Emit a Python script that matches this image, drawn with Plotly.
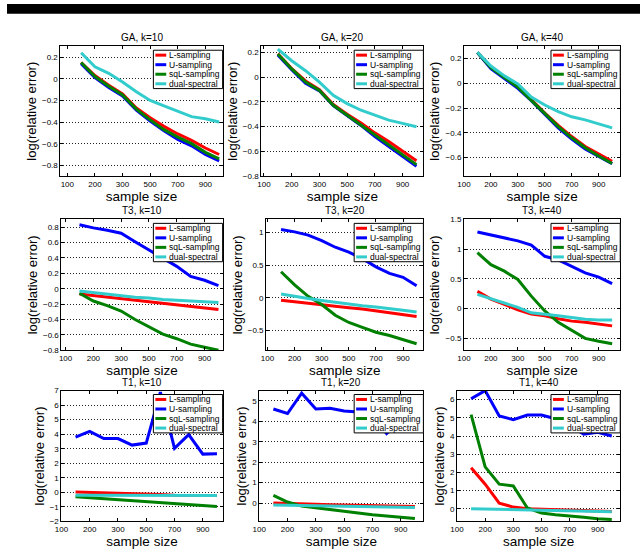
import plotly.graph_objects as go

W, H = 640, 552
FONT = "Liberation Sans, Arial, Helvetica, sans-serif"

# ---------------- data ----------------
x_idx = list(range(1, 12))
sample_sizes = [100, 150, 200, 250, 300, 400, 500, 600, 700, 800, 900, 1000]
tick_pos = list(range(0, 12, 2))
tick_labels = [str(s) for s in sample_sizes[0::2]]

series_names = ["L-sampling", "U-sampling", "sqL-sampling", "dual-spectral"]
titles = ["GA, k=10", "GA, k=20", "GA, k=40",
          "T3, k=10", "T3, k=20", "T3, k=40",
          "T1, k=10", "T1, k=20", "T1, k=40"]

ga10_L = [0.15, 0.03, -0.06, -0.14, -0.27, -0.36, -0.44, -0.51, -0.57, -0.64, -0.70]
ga10_U = [0.14, 0.01, -0.08, -0.16, -0.29, -0.39, -0.48, -0.56, -0.62, -0.70, -0.76]
ga10_sqL = [0.15, 0.02, -0.07, -0.15, -0.28, -0.38, -0.47, -0.54, -0.60, -0.68, -0.74]
ga10_dual = [0.24, 0.11, 0.05, -0.03, -0.12, -0.20, -0.25, -0.30, -0.35, -0.37, -0.40]

ga20_L = [0.19, 0.07, -0.03, -0.10, -0.22, -0.30, -0.37, -0.45, -0.52, -0.60, -0.675]
ga20_U = [0.18, 0.06, -0.05, -0.11, -0.23, -0.31, -0.39, -0.48, -0.56, -0.64, -0.72]
ga20_sqL = [0.187, 0.067, -0.04, -0.107, -0.227, -0.307, -0.387, -0.467, -0.547, -0.627, -0.707]
ga20_dual = [0.227, 0.133, 0.053, -0.04, -0.147, -0.213, -0.267, -0.307, -0.347, -0.373, -0.40]

ga40_L = [0.25, 0.13, 0.05, -0.03, -0.13, -0.24, -0.34, -0.43, -0.51, -0.57, -0.63]
ga40_U = [0.25, 0.12, 0.04, -0.04, -0.14, -0.25, -0.36, -0.45, -0.53, -0.59, -0.65]
ga40_sqL = [0.25, 0.127, 0.048, -0.03, -0.137, -0.243, -0.35, -0.44, -0.52, -0.587, -0.648]
ga40_dual = [0.252, 0.14, 0.061, -0.005, -0.11, -0.175, -0.228, -0.27, -0.295, -0.33, -0.36]

t3_10_L = [-0.07, -0.09, -0.11, -0.13, -0.15, -0.17, -0.19, -0.21, -0.23, -0.25, -0.27]
t3_10_U = [0.83, 0.79, 0.76, 0.72, 0.61, 0.50, 0.40, 0.29, 0.16, 0.11, 0.04]
t3_10_sqL = [-0.06, -0.16, -0.22, -0.29, -0.40, -0.50, -0.59, -0.65, -0.72, -0.76, -0.80]
t3_10_dual = [-0.03, -0.05, -0.07, -0.09, -0.11, -0.12, -0.14, -0.15, -0.16, -0.17, -0.18]

t3_20_L = [-0.035, -0.06, -0.08, -0.10, -0.13, -0.15, -0.17, -0.20, -0.22, -0.25, -0.285]
t3_20_U = [1.045, 1.01, 0.96, 0.875, 0.775, 0.70, 0.60, 0.475, 0.375, 0.315, 0.185]
t3_20_sqL = [0.40, 0.20, 0.025, -0.10, -0.265, -0.375, -0.45, -0.525, -0.575, -0.635, -0.70]
t3_20_dual = [0.06, 0.02, -0.01, -0.04, -0.07, -0.10, -0.12, -0.14, -0.17, -0.19, -0.215]

t3_40_L = [0.29, 0.16, 0.07, -0.02, -0.09, -0.12, -0.17, -0.21, -0.23, -0.26, -0.29]
t3_40_U = [1.29, 1.24, 1.18, 1.14, 1.07, 0.88, 0.82, 0.71, 0.60, 0.53, 0.42]
t3_40_sqL = [0.94, 0.74, 0.63, 0.49, 0.21, -0.04, -0.23, -0.37, -0.50, -0.55, -0.59]
t3_40_dual = [0.24, 0.17, 0.10, 0.02, -0.07, -0.09, -0.12, -0.15, -0.18, -0.19, -0.19]

t1_10_L = [0.02, 0.0, -0.02, -0.06, -0.08, -0.10, -0.15, -0.20, -0.22, -0.22, -0.22]
t1_10_U = [3.8, 4.2, 3.7, 3.7, 3.25, 3.39, 6.9, 3.03, 3.97, 2.63, 2.65]
t1_10_sqL = [-0.30, -0.37, -0.43, -0.50, -0.57, -0.64, -0.70, -0.77, -0.83, -0.90, -0.97]
t1_10_dual = [-0.20, -0.20, -0.20, -0.20, -0.20, -0.20, -0.21, -0.21, -0.21, -0.22, -0.22]

t1_20_L = [0.0, -0.03, -0.05, -0.06, -0.08, -0.10, -0.10, -0.12, -0.14, -0.15, -0.17]
t1_20_U = [4.6, 4.38, 5.37, 4.6, 4.64, 4.5, 4.45, 4.3, 3.4, 4.0, 4.1]
t1_20_sqL = [0.37, 0.05, -0.15, -0.24, -0.32, -0.40, -0.49, -0.57, -0.63, -0.70, -0.76]
t1_20_dual = [-0.10, -0.11, -0.12, -0.13, -0.14, -0.15, -0.16, -0.18, -0.19, -0.20, -0.22]

t1_40_L = [2.25, 1.35, 0.31, 0.09, 0.0, -0.02, -0.02, -0.05, -0.07, -0.12, -0.15]
t1_40_U = [6.05, 6.5, 5.1, 4.9, 5.15, 5.15, 4.95, 4.6, 4.1, 4.2, 4.0]
t1_40_sqL = [5.18, 2.3, 1.35, 1.25, 0.04, -0.24, -0.33, -0.42, -0.47, -0.55, -0.60]
t1_40_dual = [0.0, -0.02, -0.04, -0.06, -0.08, -0.10, -0.11, -0.13, -0.15, -0.16, -0.17]

panel_series = [
    [ga10_L, ga10_U, ga10_sqL, ga10_dual],
    [ga20_L, ga20_U, ga20_sqL, ga20_dual],
    [ga40_L, ga40_U, ga40_sqL, ga40_dual],
    [t3_10_L, t3_10_U, t3_10_sqL, t3_10_dual],
    [t3_20_L, t3_20_U, t3_20_sqL, t3_20_dual],
    [t3_40_L, t3_40_U, t3_40_sqL, t3_40_dual],
    [t1_10_L, t1_10_U, t1_10_sqL, t1_10_dual],
    [t1_20_L, t1_20_U, t1_20_sqL, t1_20_dual],
    [t1_40_L, t1_40_U, t1_40_sqL, t1_40_dual],
]

# ---------------- styling / layout ----------------
colors = ["#ff0000", "#0000ff", "#008000", "#33cccc"]
y_ranges = [[-0.9, 0.3], [-0.8, 0.25], [-0.75, 0.3],
            [-0.8, 0.9], [-0.8, 1.2], [-0.7, 1.5],
            [-2, 7], [-0.9, 5.5], [-0.7, 6.5]]
y_dticks = [0.2, 0.2, 0.2, 0.2, 0.5, 0.5, 1, 1, 1]
x_ranges = [[-0.5, 11.25], [-0.2, 11.5], [0, 11.6],
            [-0.3, 11.3], [-0.1, 11.5], [0, 11.6],
            [0, 11.4], [0, 11.6], [0, 11.6]]
# panel boxes in pixels: left, right, top, bottom
boxes = [(54, 218, 43, 175), (257, 421, 43, 175), (462, 620, 43, 175),
         (55, 218, 219, 352), (262, 421, 219, 352), (462, 620, 219, 352),
         (55, 218, 393, 526), (255, 421, 393, 526), (455, 620, 393, 526)]

fig = go.Figure()
shapes = []
annotations = []

for i in range(9):
    n = "" if i == 0 else str(i + 1)
    xr, yr = "x" + n, "y" + n
    for s in range(4):
        fig.add_trace(go.Scatter(
            x=x_idx, y=panel_series[i][s], mode="lines",
            name=series_names[s], showlegend=False,
            line=dict(color=colors[s], width=3),
            xaxis=xr, yaxis=yr))
    l, r, t, b = boxes[i]
    pw, ph = r - l, b - t
    fig.layout["xaxis" + n] = dict(
        domain=[l / W, r / W], anchor=yr, range=x_ranges[i],
        tickvals=tick_pos, ticktext=tick_labels,
        ticks="inside", ticklen=3, tickcolor="black",
        showline=True, linecolor="black", linewidth=1, mirror="ticks",
        showgrid=False, zeroline=False,
        tickfont=dict(family=FONT, size=8, color="black"),
        title=dict(text="sample size", standoff=0,
                   font=dict(family=FONT, size=13.5, color="black")))
    fig.layout["yaxis" + n] = dict(
        domain=[1 - b / H, 1 - t / H], anchor=xr, range=y_ranges[i],
        tick0=0, dtick=y_dticks[i],
        ticks="inside", ticklen=3, tickcolor="black",
        showline=True, linecolor="black", linewidth=1, mirror="ticks",
        showgrid=True, gridcolor="#222222", griddash="1px,2px", gridwidth=1,
        zeroline=False,
        tickfont=dict(family=FONT, size=8, color="black"),
        title=dict(text="log(relative error)", standoff=2,
                   font=dict(family=FONT, size=13, color="black")))
    # subplot title
    annotations.append(dict(
        text=titles[i], x=0.5, y=1, xref=xr + " domain", yref=yr + " domain",
        xanchor="center", yanchor="bottom", yshift=1, showarrow=False,
        font=dict(family=FONT, size=10, color="black")))
    # legend box (MATLAB-style, top-right inside the axes)
    lw, lh = 70, 39
    x0, x1 = 1 - lw / pw, 1
    y1 = 1 - 4 / ph
    y0 = y1 - lh / ph
    shapes.append(dict(type="rect", xref=xr + " domain", yref=yr + " domain",
                       x0=x0, x1=x1, y0=y0, y1=y1,
                       fillcolor="white", line=dict(color="black", width=1),
                       layer="above"))
    for s in range(4):
        yc = y1 - (5 + 9.7 * s) / ph
        shapes.append(dict(type="line", xref=xr + " domain", yref=yr + " domain",
                           x0=x0 + 2 / pw, x1=x0 + 13 / pw, y0=yc, y1=yc,
                           line=dict(color=colors[s], width=3), layer="above"))
        annotations.append(dict(
            text=series_names[s], x=x0 + 14 / pw, y=yc,
            xref=xr + " domain", yref=yr + " domain",
            xanchor="left", yanchor="middle", showarrow=False,
            font=dict(family=FONT, size=8.5, color="black")))

# black band at the top of the picture
shapes.append(dict(type="rect", xref="paper", yref="paper",
                   x0=0, x1=1, y0=1 - 10 / H, y1=1,
                   fillcolor="black", line=dict(width=0), layer="above"))

fig.update_layout(
    width=W, height=H, autosize=False,
    margin=dict(l=0, r=0, t=0, b=0),
    paper_bgcolor="white", plot_bgcolor="white",
    font=dict(family=FONT, color="black"),
    shapes=shapes, annotations=annotations,
    showlegend=False, hovermode=False,
)

fig.write_html("out.html",
               config={"displayModeBar": False, "staticPlot": True},
               post_script="document.body.style.margin='0px';"
                           "document.body.style.overflow='hidden';")
